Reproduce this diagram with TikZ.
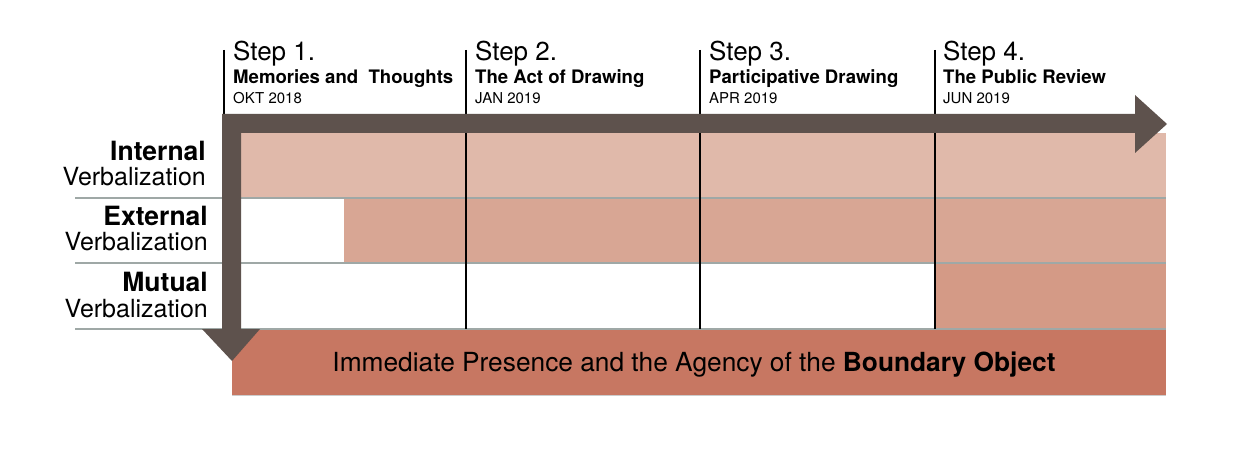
\documentclass[tikz,border=0pt]{standalone}
\usepackage{fontspec}
\setmainfont{TeX Gyre Heros}
\begin{document}
\begin{tikzpicture}[x=1pt,y=-1pt,
  steptitle/.style={anchor=base west,inner sep=0pt,font=\fontsize{26}{26}\selectfont},
  stepsub/.style={anchor=base west,inner sep=0pt,font=\fontsize{18.6}{18.6}\selectfont\bfseries},
  stepdate/.style={anchor=base west,inner sep=0pt,font=\fontsize{15}{15}\selectfont},
  rowbold/.style={anchor=base east,inner sep=0pt,font=\fontsize{26.5}{26.5}\selectfont\bfseries},
  rowlight/.style={anchor=base east,inner sep=0pt,font=\fontsize{25}{25}\selectfont},
  stepline/.style={line width=2.3pt,black},
  sepline/.style={line width=1.2pt,color=sepgrey}]
\definecolor{rowA}{HTML}{E0B9AA}
\definecolor{rowB}{HTML}{D8A694}
\definecolor{rowC}{HTML}{D49A86}
\definecolor{bottomc}{HTML}{C77762}
\definecolor{arrowc}{HTML}{5E524D}
\definecolor{sepgrey}{HTML}{9FA8A6}
\useasboundingbox (0,0) rectangle (1250,462);
\fill[white] (0,0) rectangle (1250,462);
% row fills
\fill[rowA] (241,133) rectangle (1166,198);
\fill[rowB] (344,198) rectangle (1166,263);
\fill[rowC] (935,263) rectangle (1166,329);
% bottom box
\fill[bottomc] (232,329) rectangle (1166,395);
\draw[line width=0.8pt,color=black!20] (232,395.5) -- (1166,395.5);
% separators
\draw[sepline] (75,198) -- (1166,198);
\draw[sepline] (75,263) -- (1166,263);
\draw[sepline] (75,329) -- (1166,329);
% step lines
\draw[stepline] (224,50) -- (224,114);
\draw[stepline] (466,50) -- (466,329);
\draw[stepline] (700,50) -- (700,329);
\draw[stepline] (935,50) -- (935,329);
% arrows
\fill[arrowc] (222,114) -- (1135,114) -- (1135,95) -- (1167,124) -- (1135,153) -- (1135,133)
  -- (241,133) -- (241,329) -- (260,329) -- (232,361) -- (202,329) -- (222,329) -- cycle;
% step texts
\node[steptitle] (s1) at (233,61) {Step 1.};
\node[stepsub] (s1b) at (233,84) {Memories and\ \ Thoughts};
\node[stepdate] (s1c) at (233,104) {OKT 2018};
\node[steptitle] (s2) at (475,61) {Step 2.};
\node[stepsub] (s2b) at (475,84) {The Act of Drawing};
\node[stepdate] (s2c) at (475,104) {JAN 2019};
\node[steptitle] (s3) at (709,61) {Step 3.};
\node[stepsub] (s3b) at (709,84) {Participative Drawing};
\node[stepdate] (s3c) at (709,104) {APR 2019};
\node[steptitle] (s4) at (943,61) {Step 4.};
\node[stepsub] (s4b) at (943,84) {The Public Review};
\node[stepdate] (s4c) at (943,104) {JUN 2019};
% row labels
\node[rowbold] (r1a) at (206,161) {Internal};
\node[rowlight] (r1b) at (206,186) {Verbalization};
\node[rowbold] (r2a) at (208,226) {External};
\node[rowlight] (r2b) at (208,251) {Verbalization};
\node[rowbold] (r3a) at (208,292) {Mutual};
\node[rowlight] (r3b) at (208,317) {Verbalization};
% bottom text
\node[anchor=base,inner sep=0pt,font=\fontsize{26.3}{26.3}\selectfont] (bt) at (694,371)
  {Immediate Presence and the Agency of the \textbf{Boundary Object}};
\end{tikzpicture}
\end{document}
